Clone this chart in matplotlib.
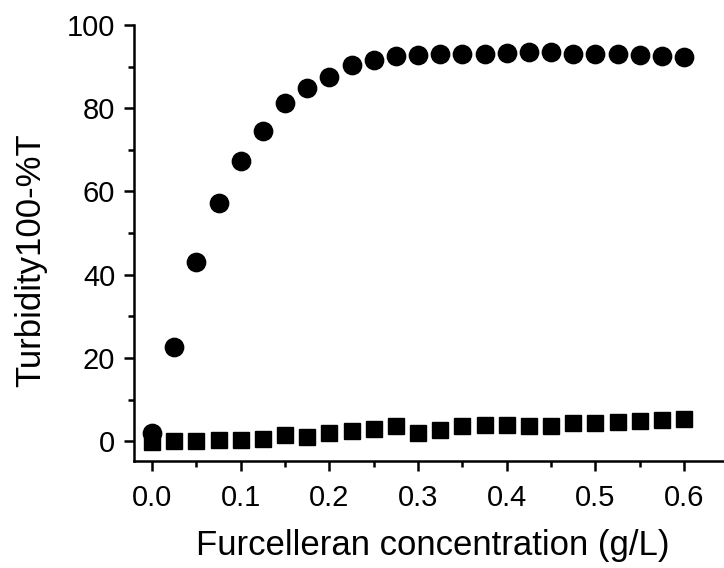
import matplotlib
matplotlib.use("Agg")
import matplotlib.pyplot as plt
from matplotlib.ticker import MultipleLocator

plt.rcParams['font.family'] = ['Liberation Sans', 'DejaVu Sans']

# Furcelleran concentration (g/L)
concentration = [0.0, 0.025, 0.05, 0.075, 0.1, 0.125, 0.15, 0.175, 0.2, 0.225,
                 0.25, 0.275, 0.3, 0.325, 0.35, 0.375, 0.4, 0.425, 0.45, 0.475,
                 0.5, 0.525, 0.55, 0.575, 0.6]

# Turbidity (100 - %T), circles
turbidity_circles = [2.0, 22.7, 43.0, 57.2, 67.3, 74.6, 81.2, 84.8, 87.5, 90.3,
                     91.6, 92.5, 92.8, 93.0, 93.1, 93.0, 93.2, 93.4, 93.4, 93.1,
                     93.0, 93.0, 92.8, 92.6, 92.4]

# Turbidity (100 - %T), squares
turbidity_squares = [-0.2, 0.1, 0.0, 0.3, 0.3, 0.4, 1.4, 1.1, 1.9, 2.4,
                     2.8, 3.7, 2.0, 2.6, 3.6, 3.8, 3.9, 3.7, 3.7, 4.4,
                     4.4, 4.5, 4.9, 5.0, 5.4]

x_ticks = [0.0, 0.1, 0.2, 0.3, 0.4, 0.5, 0.6]
y_ticks = [0, 20, 40, 60, 80, 100]

W, H = 724, 568
fig = plt.figure(figsize=(W / 100, H / 100), dpi=100)
left, right, bottom, top = 134, 724, 460.7, 25
ax = fig.add_axes([left / W, 1 - bottom / H, (right - left) / W, (bottom - top) / H])

ax.plot(concentration, turbidity_squares, linestyle='none', marker='s',
        markersize=11.5, color='black', zorder=3)
ax.plot(concentration, turbidity_circles, linestyle='none', marker='o',
        markersize=13.2, color='black', zorder=4)

ax.set_xlim(-0.0203, 0.645)
ax.set_ylim(-4.7, 100)

ax.spines['top'].set_visible(False)
ax.spines['right'].set_visible(False)
for side in ('left', 'bottom'):
    ax.spines[side].set_linewidth(1.8)

ax.set_xticks(x_ticks)
ax.set_xticklabels([f"{v:.1f}" for v in x_ticks])
ax.set_yticks(y_ticks)
ax.set_yticklabels([str(v) for v in y_ticks])
ax.xaxis.set_minor_locator(MultipleLocator(0.05))
ax.yaxis.set_minor_locator(MultipleLocator(10))

ax.tick_params(which='major', direction='out', length=7, width=1.8,
               labelsize=21, color='black')
ax.tick_params(which='minor', direction='out', length=4.3, width=1.8,
               color='black')
ax.tick_params(axis='x', which='major', pad=9.5)
ax.tick_params(axis='y', which='major', pad=6.5)

ax.set_xlabel("Furcelleran concentration (g/L)", fontsize=25)
ax.set_ylabel("Turbidity100-%T", fontsize=25)
ax.xaxis.set_label_coords((433 - left) / (right - left), (bottom - 529) / (bottom - top))
ax.yaxis.set_label_coords((47 - left) / (right - left), (bottom - 260) / (bottom - top))

fig.savefig("out.png", dpi=100)
